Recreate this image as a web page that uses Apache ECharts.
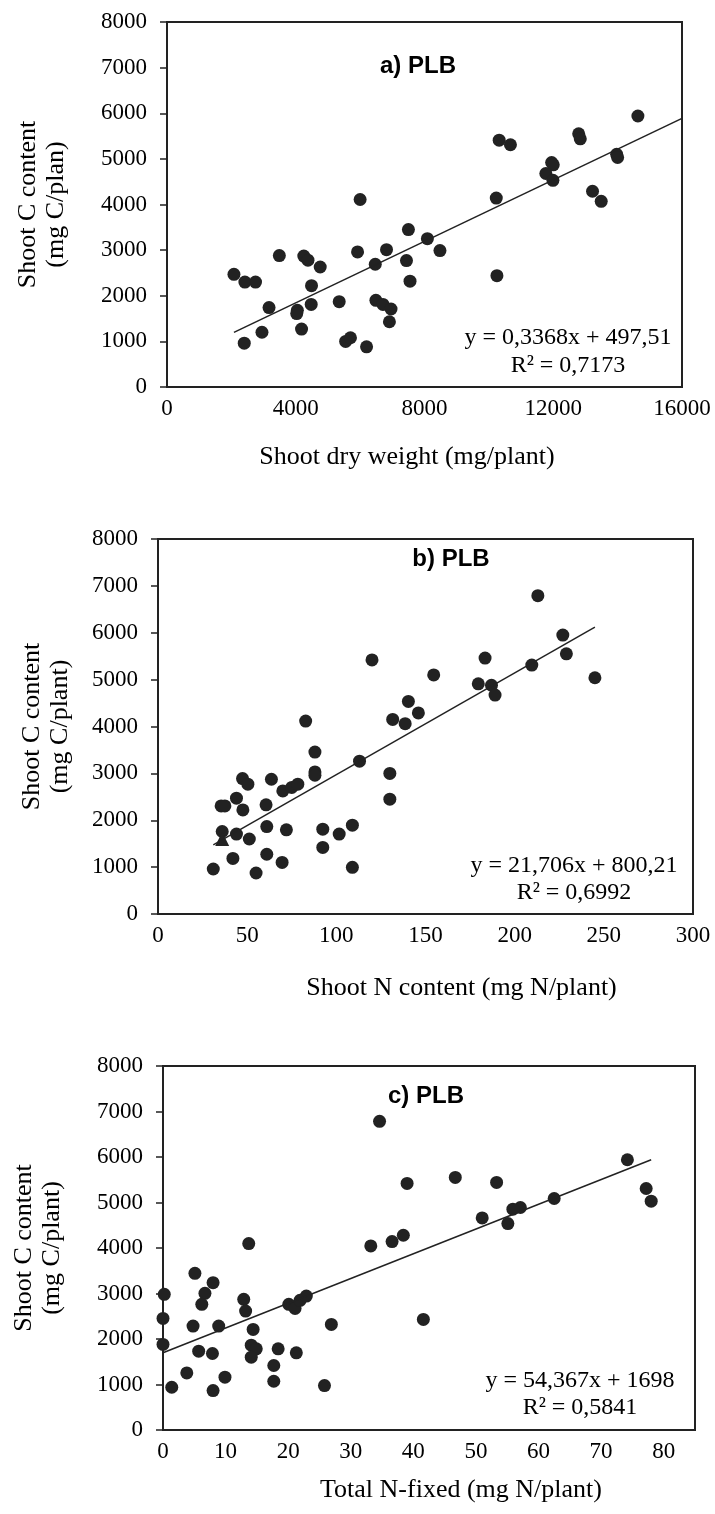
<!DOCTYPE html>
<html>
<head>
<meta charset="utf-8">
<script src="https://cdn.jsdelivr.net/npm/echarts@6/dist/echarts.min.js"></script>
<style>
  html, body { margin: 0; padding: 0; background: #fff; }
  #chart { width: 715px; height: 1514px; }
</style>
</head>
<body>
<div id="chart"></div>
<script>
// a) shoot dry weight vs shoot C
const aDryWeight = [14630, 10320, 10670, 12790, 12840, 13970, 14000, 11950, 12000, 11770, 11990, 13220, 13490, 10230, 6000, 7500, 8090, 8480, 6820, 5920, 7440, 6470, 3490, 4250, 4380, 4760, 2080, 2420, 2750, 4490, 7550, 10250, 3170, 4480, 5350, 4050, 4030, 6490, 6710, 6960, 6910, 2950, 4180, 5550, 5700, 2400, 6200];
const aCarbon = [5940, 5410, 5310, 5550, 5440, 5100, 5030, 4920, 4870, 4680, 4530, 4290, 4070, 4140, 4110, 3450, 3250, 2990, 3010, 2960, 2770, 2690, 2880, 2870, 2780, 2630, 2470, 2300, 2300, 2220, 2320, 2440, 1740, 1810, 1870, 1680, 1610, 1900, 1810, 1710, 1430, 1200, 1270, 1000, 1080, 960, 880];
const aSlope = 0.3368, aIntercept = 497.51;

// b) shoot N content vs shoot C
const bNitrogen = [213, 227, 229, 209.6, 245, 183.4, 179.6, 187, 189, 154.6, 120, 140.4, 146, 131.6, 138.6, 82.8, 88, 88, 88, 113, 130, 130, 47.4, 50.4, 63.6, 70, 75, 78.4, 35.4, 37.5, 44, 47.6, 60.6, 36, 44, 51.2, 61, 72, 92.4, 101.6, 109, 92.4, 61, 69.6, 42, 31, 55, 109];
const bCarbon = [6790, 5950, 5550, 5310, 5040, 5460, 4910, 4880, 4670, 5100, 5420, 4535, 4290, 4150, 4060, 4115, 3455, 3030, 2960, 3260, 3000, 2450, 2890, 2770, 2875, 2625, 2700, 2770, 2305, 2305, 2470, 2220, 2330, 1760, 1705, 1600, 1865, 1795, 1810, 1705, 1895, 1420, 1275, 1100, 1185, 960, 875, 995];
const bTriangleN = [36];
const bTriangleC = [1600];
const bSlope = 21.706, bIntercept = 800.21;

// c) total N fixed vs shoot C
const cFixed = [34.6, 74.2, 46.7, 53.3, 39, 77.2, 78, 62.5, 57.1, 55.9, 55.1, 51, 38.4, 36.6, 33.2, 13.7, 5.1, 8, 6.7, 6.2, 0.2, 0, 0, 12.9, 13.2, 20.1, 21.1, 21.9, 22.9, 26.9, 41.6, 4.8, 8.9, 14.4, 14.1, 14.9, 14.1, 5.7, 7.9, 18.4, 21.3, 17.7, 17.7, 3.8, 9.9, 1.4, 8, 25.8];
const cCarbon = [6784, 5940, 5551, 5441, 5419, 5308, 5029, 5088, 4890, 4853, 4537, 4662, 4280, 4141, 4046, 4097, 3443, 3238, 3003, 2761, 2981, 2452, 1880, 2871, 2614, 2761, 2673, 2849, 2944, 2320, 2430, 2283, 2283, 2210, 1865, 1784, 1600, 1733, 1681, 1784, 1696, 1417, 1072, 1255, 1160, 940, 866, 976];
const cSlope = 54.367, cIntercept = 1698;

const serif = 'Liberation Serif';
const sans = 'Liberation Sans';
const ink = '#222';

const pairs = (xs, ys) => xs.map((x, i) => [x, ys[i]]);
const trend = (xs, slope, icpt, xEnd) => {
    const x0 = Math.min(...xs);
    const x1 = xEnd !== undefined ? xEnd : Math.max(...xs);
    return [[x0, slope * x0 + icpt], [x1, slope * x1 + icpt]];
};

const grids = [
    { left: 167, top: 22, width: 515, height: 365 },
    { left: 158, top: 539, width: 535, height: 375 },
    { left: 163, top: 1066, width: 532, height: 364 }
];

// x axis names are not centred on the plots in the original
const xAxisDefs = [
    { max: 16000, interval: 4000, name: 'Shoot dry weight (mg/plant)', gap: 57, pad: [0, 35, 0, 0] },
    { max: 300, interval: 50, name: 'Shoot N content (mg N/plant)', gap: 61, pad: [0, 0, 0, 72] },
    { max: 85, interval: 10, name: 'Total N-fixed (mg N/plant)', gap: 47, pad: [0, 0, 0, 64] }
];
const yNames = ['Shoot C content\n(mg C/plan)', 'Shoot C content\n(mg C/plant)', 'Shoot C content\n(mg C/plant)'];
const yGaps = [97, 84, 97];

const chart = echarts.init(document.getElementById('chart'));

const eq = (x, y, text) => ({
    type: 'text', x: x, y: y,
    style: { text: text, fontFamily: serif, fontSize: 24, fill: '#000', textAlign: 'center', textVerticalAlign: 'middle' }
});
const ttl = (x, y, text) => ({
    type: 'text', x: x, y: y,
    style: { text: text, fontFamily: sans, fontWeight: 'bold', fontSize: 24, fill: '#000', textAlign: 'center', textVerticalAlign: 'middle' }
});

const option = {
    backgroundColor: '#fff',
    animation: false,
    textStyle: { fontFamily: serif },
    grid: grids.map(g => Object.assign({ show: true, borderColor: ink, borderWidth: 2, backgroundColor: 'transparent' }, g)),
    xAxis: xAxisDefs.map((d, i) => ({
        type: 'value', gridIndex: i, min: 0, max: d.max, interval: d.interval,
        name: d.name, nameLocation: 'middle', nameGap: d.gap,
        nameTextStyle: { fontFamily: serif, fontSize: 26, color: '#000', padding: d.pad },
        axisLine: { show: true, lineStyle: { color: ink, width: 2 } },
        axisTick: { show: false },
        splitLine: { show: false },
        axisLabel: {
            fontFamily: serif, fontSize: 23, color: '#000', margin: 10,
            showMaxLabel: i !== 2,
            formatter: v => String(v)
        }
    })),
    yAxis: yNames.map((n, i) => ({
        type: 'value', gridIndex: i, min: 0, max: 8000, interval: 1000,
        name: n, nameLocation: 'middle', nameRotate: 90, nameGap: yGaps[i],
        nameTextStyle: { fontFamily: serif, fontSize: 26, color: '#000', lineHeight: 28 },
        axisLine: { show: true, lineStyle: { color: ink, width: 2 } },
        axisTick: { show: true, inside: false, length: 7, lineStyle: { color: ink, width: 1.5 } },
        splitLine: { show: false },
        axisLabel: { fontFamily: serif, fontSize: 23, color: '#000', margin: 20, formatter: v => String(v) }
    })),
    series: [
        { type: 'scatter', xAxisIndex: 0, yAxisIndex: 0, data: pairs(aDryWeight, aCarbon), symbolSize: 13, itemStyle: { color: ink, opacity: 1 } },
        { type: 'line', xAxisIndex: 0, yAxisIndex: 0, data: trend(aDryWeight, aSlope, aIntercept, 16000), symbol: 'none', lineStyle: { color: ink, width: 1.5 }, z: 3 },
        { type: 'scatter', xAxisIndex: 1, yAxisIndex: 1, data: pairs(bNitrogen, bCarbon), symbolSize: 13, itemStyle: { color: ink, opacity: 1 } },
        { type: 'scatter', xAxisIndex: 1, yAxisIndex: 1, data: pairs(bTriangleN, bTriangleC), symbol: 'triangle', symbolSize: 14, itemStyle: { color: ink, opacity: 1 } },
        { type: 'line', xAxisIndex: 1, yAxisIndex: 1, data: trend(bNitrogen, bSlope, bIntercept), symbol: 'none', lineStyle: { color: ink, width: 1.5 }, z: 3 },
        { type: 'scatter', xAxisIndex: 2, yAxisIndex: 2, data: pairs(cFixed, cCarbon), symbolSize: 13, itemStyle: { color: ink, opacity: 1 } },
        { type: 'line', xAxisIndex: 2, yAxisIndex: 2, data: trend(cFixed, cSlope, cIntercept), symbol: 'none', lineStyle: { color: ink, width: 1.5 }, z: 3 }
    ],
    graphic: [
        ttl(418, 66, 'a) PLB'),
        ttl(451, 559, 'b) PLB'),
        ttl(426, 1096, 'c) PLB'),
        eq(568, 338, 'y = 0,3368x + 497,51'),
        eq(568, 366, 'R² = 0,7173'),
        eq(574, 866, 'y = 21,706x + 800,21'),
        eq(574, 893, 'R² = 0,6992'),
        eq(580, 1381, 'y = 54,367x + 1698'),
        eq(580, 1408, 'R² = 0,5841')
    ]
};

chart.setOption(option);
</script>
</body>
</html>
